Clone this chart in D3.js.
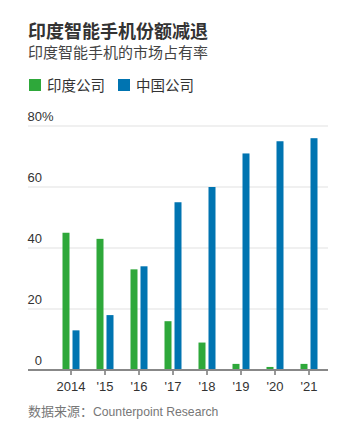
<!DOCTYPE html>
<html><head><meta charset="utf-8">
<script src="https://cdn.jsdelivr.net/npm/d3@7"></script>
<style>
body{margin:0;background:#fff;}
text{font-family:"Liberation Sans","Noto Sans CJK SC",sans-serif;}
</style></head>
<body><svg id="c" width="356" height="436"></svg>
<script>
const years = ["2014","'15","'16","'17","'18","'19","'20","'21"];
const indiaShare = [45,43,33,16,9,2,1,2];
const chinaShare = [13,18,34,55,60,71,75,76];
const seriesNames = ["印度公司","中国公司"];
const seriesColors = ["#2ea83a","#0074b1"];
const yTicks = [0,20,40,60,80];
const title = "印度智能手机份额减退";
const subtitle = "印度智能手机的市场占有率";
const sourceLabel = "数据来源：";
const sourceName = "Counterpoint Research";

const svg = d3.select("#c");
const cjk = '"Noto Sans CJK SC","Liberation Sans",sans-serif';
const plotL = 28, plotR = 328, plotT = 126, plotB = 370;

svg.append("text").attr("x",28).attr("y",38).attr("font-size",18).attr("font-weight","bold")
  .attr("fill","#333").style("font-family",cjk).text(title);
svg.append("text").attr("x",28).attr("y",58).attr("font-size",15)
  .attr("fill","#444").style("font-family",cjk).text(subtitle);

const legX = [29,118];
seriesNames.forEach((n,i)=>{
  svg.append("rect").attr("x",legX[i]).attr("y",79).attr("width",12).attr("height",12).attr("fill",seriesColors[i]);
  svg.append("text").attr("x",legX[i]+18).attr("y",90.5).attr("font-size",14.5).attr("fill","#333")
    .style("font-family",cjk).text(n);
});

const y = d3.scaleLinear().domain([0,80]).range([plotB,plotT]);
const x = d3.scaleBand().domain(years).range([54,326]).paddingInner(0).paddingOuter(0);

svg.append("g").selectAll("line").data(yTicks.filter(d=>d>0)).join("line")
  .attr("x1",plotL).attr("x2",plotR).attr("y1",d=>y(d)).attr("y2",d=>y(d))
  .attr("stroke","#ebebeb").attr("stroke-width",1.5);

svg.append("g").selectAll("text").data(yTicks).join("text")
  .attr("x",42).attr("y",d=>y(d)-5).attr("text-anchor","end").attr("font-size",13).attr("fill","#333")
  .text(d=>d);
svg.append("text").attr("x",42).attr("y",y(80)-5).attr("font-size",13).attr("fill","#333").text("%");

const bw = 7, gap = 3;
const g = svg.append("g");
[indiaShare, chinaShare].forEach((arr,si)=>{
  g.selectAll(null).data(arr).join("rect")
    .attr("x",(d,i)=>x(years[i])+x.bandwidth()/2 + (si===0 ? -gap/2-bw : gap/2))
    .attr("y",d=>y(d)).attr("width",bw).attr("height",d=>y(0)-y(d))
    .attr("fill",seriesColors[si]);
});

const ax = svg.append("g").attr("transform",`translate(0,${plotB})`)
  .call(d3.axisBottom(x).tickSize(5).tickSizeOuter(0).tickPadding(7));
ax.select(".domain").remove();
ax.selectAll(".tick line").attr("stroke","#333");
ax.selectAll(".tick text").attr("font-size",13).attr("fill","#333").style("font-family",'"Liberation Sans",sans-serif');
svg.append("line").attr("x1",plotL).attr("x2",plotR).attr("y1",plotB).attr("y2",plotB)
  .attr("stroke","#888").attr("stroke-width",2);

const src = svg.append("text").attr("x",28).attr("y",416).attr("fill","#777");
src.append("tspan").attr("font-size",13).style("font-family",cjk).text(sourceLabel);
src.append("tspan").attr("font-size",12.2).style("font-family",'"Liberation Sans",sans-serif').text(sourceName);
</script></body></html>
